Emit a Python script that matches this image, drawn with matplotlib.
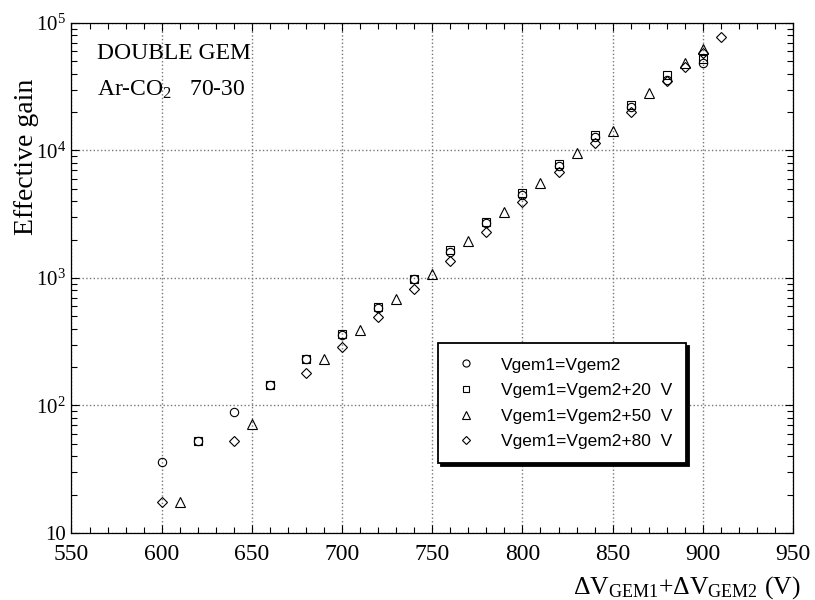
import matplotlib
matplotlib.use("Agg")
import matplotlib.pyplot as plt
from matplotlib.ticker import MultipleLocator, LogLocator, FixedLocator, FixedFormatter, NullFormatter

plt.rcParams['font.family'] = ['Liberation Serif', 'DejaVu Serif']
plt.rcParams['mathtext.fontset'] = 'custom'
plt.rcParams['mathtext.rm'] = 'Liberation Serif'
plt.rcParams['mathtext.it'] = 'Liberation Serif:italic'

# Vgem1 = Vgem2
v_eq = [600, 620, 640, 660, 680, 700, 720, 740, 760, 780, 800, 820, 840, 860, 880, 900]
g_eq = [36, 53, 89, 145, 232, 358, 585, 975, 1600, 2680, 4500, 7600, 12700, 21800, 36000, 48900]
# Vgem1 = Vgem2 + 20 V
v_20 = [620, 660, 680, 700, 720, 740, 760, 780, 800, 820, 840, 860, 880, 900]
g_20 = [53, 145, 232, 362, 592, 990, 1660, 2740, 4680, 7900, 13200, 22800, 39000, 52000]
# Vgem1 = Vgem2 + 50 V
v_50 = [610, 650, 690, 710, 730, 750, 770, 790, 810, 830, 850, 870, 890, 900]
g_50 = [17.6, 71, 232, 391, 681, 1070, 1950, 3270, 5580, 9500, 14300, 28100, 48900, 62000]
# Vgem1 = Vgem2 + 80 V
v_80 = [600, 640, 680, 700, 720, 740, 760, 780, 800, 820, 840, 860, 880, 890, 900, 910]
g_80 = [17.6, 53, 181, 286, 490, 824, 1360, 2300, 3930, 6820, 11500, 20100, 35100, 45400, 58500, 78200]

labels = ['Vgem1=Vgem2', 'Vgem1=Vgem2+20  V', 'Vgem1=Vgem2+50  V', 'Vgem1=Vgem2+80  V']

fig = plt.figure(figsize=(8.15, 6), dpi=100)
ax = fig.add_axes([0.0877, 0.1117, 0.8853, 0.85])

mk = dict(linestyle='none', markerfacecolor='none', markeredgecolor='black', markeredgewidth=0.8)
ax.plot(v_eq, g_eq, marker='o', markersize=6, label=labels[0], **mk)
ax.plot(v_20, g_20, marker='s', markersize=5.8, label=labels[1], **mk)
ax.plot(v_50, g_50, marker='^', markersize=6.5, label=labels[2], **mk)
ax.plot(v_80, g_80, marker='D', markersize=4.8, label=labels[3], **mk)

ax.set_yscale('log')
ax.set_xlim(550, 950)
ax.set_ylim(10, 1e5)

ax.xaxis.set_major_locator(MultipleLocator(50))
ax.xaxis.set_minor_locator(MultipleLocator(10))
ax.yaxis.set_major_locator(FixedLocator([10, 1e2, 1e3, 1e4, 1e5]))
ax.yaxis.set_major_formatter(FixedFormatter(['10', r'$10^2$', r'$10^3$', r'$10^4$', r'$10^5$']))
ax.yaxis.set_minor_locator(LogLocator(base=10, subs=range(2, 10)))
ax.yaxis.set_minor_formatter(NullFormatter())

ax.tick_params(which='both', direction='in', top=True, right=True, width=0.8)
ax.tick_params(which='major', length=6)
ax.tick_params(which='minor', length=4)
ax.tick_params(axis='x', pad=8, labelsize=17)
ax.tick_params(axis='y', pad=4, labelsize=15)

ax.grid(True, which='major', linestyle=':', color='#777777', linewidth=1)
for s in ax.spines.values():
    s.set_linewidth(0.9)

ax.text(-0.063, 0.737, 'Effective gain', transform=ax.transAxes, rotation=90,
        ha='center', va='center', fontsize=20)
ax.text(1.01, -0.08, r'$\Delta\mathrm{V_{GEM1}}{+}\Delta\mathrm{V_{GEM2}}$ (V)',
        transform=ax.transAxes, ha='right', va='top', fontsize=18.5)

ax.text(0.035, 0.96, 'DOUBLE GEM', transform=ax.transAxes, fontsize=17, va='top')
ax.text(0.035, 0.89, r'Ar-CO$_2$   70-30', transform=ax.transAxes, fontsize=17, va='top')

leg = ax.legend(loc='lower left', bbox_to_anchor=(0.508, 0.137), frameon=True, fancybox=False,
                shadow={'facecolor': 'black', 'edgecolor': 'black', 'alpha': 1},
                prop={'family': ['Liberation Sans'], 'size': 12.5},
                labelspacing=0.6, handlelength=1.6, handletextpad=1.2, borderpad=0.8,
                borderaxespad=0, numpoints=1, markerscale=0.85)
leg.get_frame().set_edgecolor('black')
leg.get_frame().set_linewidth(1.3)
leg.get_frame().set_alpha(1)

fig.savefig('out.png', dpi=100)
